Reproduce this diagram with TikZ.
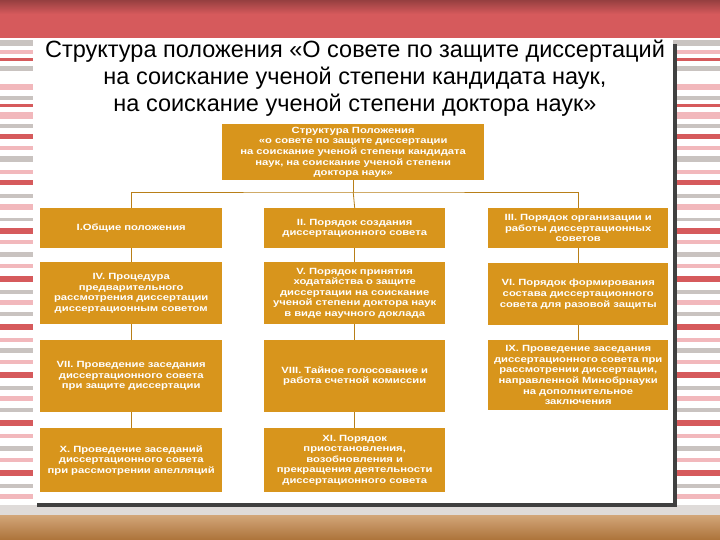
\documentclass[tikz,border=0pt]{standalone}
\usepackage{fontspec}
\setmainfont{Liberation Sans}
\newfontfamily\boxfont[FakeStretch=1.25]{Liberation Sans}
\begin{document}
\begin{tikzpicture}[x=1pt,y=-1pt,
  bx/.style={fill=boxc,text=white,font=\boxfont\bfseries\fontsize{9}{10.6}\selectfont,align=center,inner sep=0pt,anchor=north west},
  ln/.style={draw=boxc!85!black,line width=0.8pt}]
\definecolor{boxc}{HTML}{D8951C}
\definecolor{sr}{HTML}{D65A5C}
\definecolor{sp}{HTML}{F2B8BC}
\definecolor{sg}{HTML}{C9C3C0}
\useasboundingbox (0,0) rectangle (720,540);
% background stripes
\fill[white] (0,0) rectangle (720,540);
\foreach \y/\h/\c in {40/6/sg,50/4/sp,58/3/sr,66/5/sg,76/3/white,84/6/sp,96/4/sg,104/3/sr,112/7/sp,124/4/sg,134/5/sr,146/4/sp,156/6/sg,170/4/sp,180/5/sr,194/4/sg,204/6/sp,218/3/sg,228/6/sr,240/4/sp,252/5/sg,264/4/sp,276/6/sr,290/4/sg,300/5/sp,312/4/sg,324/6/sr,338/4/sp,348/5/sg,360/4/sp,372/6/sr,386/4/sg,396/5/sp,408/4/sg,420/6/sr,434/4/sp,446/5/sg,458/4/sp,470/6/sr,484/4/sg,494/5/sp}
  {\fill[\c] (0,\y) rectangle (720,\y+\h);}
\shade[top color=sr!70!black,bottom color=sr] (0,0) rectangle (720,14);
\fill[sr] (0,14) rectangle (720,38);
\fill[sg!60] (0,505) rectangle (720,515);
\shade[top color=brown!70!white,bottom color=brown!90!black] (0,515) rectangle (720,540);
% panel
\fill[black!75] (37,44) rectangle (677,507);
\fill[white] (33,40) rectangle (673,503);
% title
\node[font=\fontsize{23.5}{27}\selectfont,align=center,anchor=north] (title) at (355,37)
 {Структура положения «О совете по защите диссертаций\\на соискание ученой степени кандидата наук,\\на соискание ученой степени доктора наук»};
% boxes
\node[bx,minimum width=262,minimum height=56,text width=258] (top) at (222,124) {Структура Положения\\«о совете по защите диссертации\\на соискание ученой степени кандидата\\наук, на соискание ученой степени\\доктора наук»};
\node[bx,minimum width=182,minimum height=40,text width=180] (b1) at (40,208) {I.Общие положения};
\node[bx,minimum width=181,minimum height=40,text width=180] (b2) at (264,208) {II. Порядок создания\\диссертационного совета};
\node[bx,minimum width=180,minimum height=40,text width=180] (b3) at (488,208) {III. Порядок организации и\\работы диссертационных\\советов};
\node[bx,minimum width=182,minimum height=62,text width=180] (b4) at (40,262) {IV. Процедура\\предварительного\\рассмотрения диссертации\\диссертационным советом};
\node[bx,minimum width=181,minimum height=62,text width=180] (b5) at (264,262) {V. Порядок принятия\\ходатайства о защите\\диссертации на соискание\\ученой степени доктора наук\\в виде научного доклада};
\node[bx,minimum width=180,minimum height=62,text width=180] (b6) at (488,263) {VI. Порядок формирования\\состава диссертационного\\совета для разовой защиты};
\node[bx,minimum width=182,minimum height=72,text width=180] (b7) at (40,340) {VII. Проведение заседания\\диссертационного совета\\при защите диссертации};
\node[bx,minimum width=181,minimum height=72,text width=180] (b8) at (264,340) {VIII. Тайное голосование и\\работа счетной комиссии};
\node[bx,minimum width=180,minimum height=70,text width=180] (b9) at (488,340) {IX. Проведение заседания\\диссертационного совета при\\рассмотрении диссертации,\\направленной Минобрнауки\\на дополнительное\\заключения};
\node[bx,minimum width=182,minimum height=64,text width=180] (b10) at (40,428) {X. Проведение заседаний\\диссертационного совета\\при рассмотрении апелляций};
\node[bx,minimum width=181,minimum height=64,text width=180] (b11) at (264,428) {XI. Порядок\\приостановления,\\возобновления и\\прекращения деятельности\\диссертационного совета};
% connectors
\coordinate (j) at (top.south |- 0,192);
\draw[ln] (top.south) -- (j);
\draw[ln] (b1.north) |- (j) -| (b3.north);
\draw[ln] (j) -- (b2.north);
\draw[ln] (b1) -- (b4); \draw[ln] (b4) -- (b7); \draw[ln] (b7) -- (b10);
\draw[ln] (b2) -- (b5); \draw[ln] (b5) -- (b8); \draw[ln] (b8) -- (b11);
\draw[ln] (b3) -- (b6); \draw[ln] (b6) -- (b9);
\end{tikzpicture}
\end{document}
